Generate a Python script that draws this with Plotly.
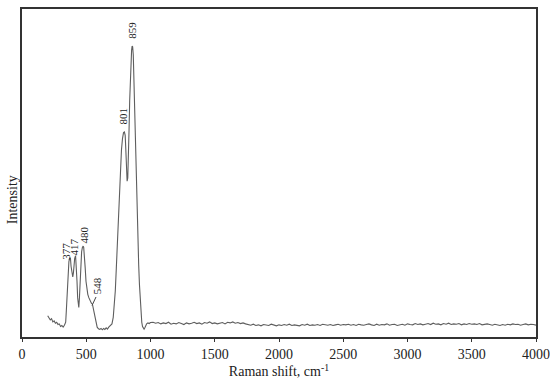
import plotly.graph_objects as go

# Raman spectrum, peak region (cm^-1 and intensity, arbitrary units 0-100)
shift_peaks = [200, 210, 220, 230, 240, 250, 260, 270, 280, 290, 300, 310, 320, 330,
               340, 345, 350, 355, 360, 365, 372, 377, 382, 390, 395, 400, 405, 410,
               417, 422, 428, 433, 438, 442, 447, 452, 458, 464, 470, 476, 480, 486,
               492, 498, 505, 512, 520, 530, 540, 548, 556, 565, 575, 585, 595, 605,
               615, 625, 635, 645, 655, 665, 675, 685, 692, 700, 710, 718, 726, 734,
               742, 750, 758, 766, 774, 782, 790, 797, 803, 808, 813, 818, 823, 828,
               833, 838, 843, 848, 853, 857, 861, 866, 872, 878, 884, 890, 896, 902,
               908, 914, 920, 926, 932, 938, 944, 950, 956, 962, 970, 980, 990, 1000]
intensity_peaks = [6.5, 5.8, 5.2, 5.6, 4.6, 4.9, 4.2, 4.5, 3.8, 4.0, 3.2, 3.5, 3.0, 3.6,
                   4.5, 8.0, 13.0, 18.0, 21.0, 23.0, 24.2, 24.0, 21.5, 19.0, 18.3, 19.5, 22.0, 24.0,
                   24.8, 22.0, 17.0, 12.0, 9.5, 9.0, 12.0, 18.0, 23.0, 26.0, 27.3, 27.7, 27.4, 25.0,
                   21.0, 17.0, 14.5, 13.0, 12.0, 11.0, 10.3, 10.0, 8.5, 6.0, 4.0, 3.0, 2.5, 2.3,
                   2.6, 2.2, 2.6, 2.3, 2.8, 2.4, 3.0, 3.3, 3.6, 4.0, 6.0, 9.0, 14.0, 21.0,
                   29.0, 37.0, 45.0, 52.0, 57.0, 60.5, 62.3, 62.5, 61.5, 57.0, 51.0, 47.5, 48.5, 54.0,
                   63.0, 72.0, 79.0, 84.0, 87.5, 88.7, 88.5, 86.0, 76.0, 66.0, 56.0, 46.0, 37.0, 29.0,
                   22.0, 16.0, 11.0, 7.0, 4.5, 3.2, 2.6, 2.4, 2.8, 3.4, 4.0, 4.3, 4.1, 4.4]

# Baseline region 1020-4000 cm^-1, sampled every 20 cm^-1
shift_base = list(range(1020, 4001, 20))
intensity_base = [
    4.5, 4.2, 4.4, 4.0, 4.3, 4.1, 4.5, 3.9, 4.2, 4.0, 4.4, 4.1, 3.8, 4.3, 4.0, 4.2, 4.5, 4.1, 4.3,
    3.9, 4.4, 4.2, 4.6, 4.1, 4.3, 4.0, 4.2, 4.4, 4.0, 4.5, 4.3, 4.6, 4.2, 4.4, 4.1, 4.3, 4.0,
    3.8, 3.6, 3.9, 3.5, 3.7, 3.4, 3.8, 3.6, 3.5, 3.9, 3.6, 3.4, 3.7, 3.5, 3.8, 3.6, 3.9, 3.5, 3.7,
    3.6, 3.4, 3.8, 3.6, 3.9, 3.5, 3.7, 3.6, 3.8, 3.5, 3.9, 3.7, 3.6, 3.8, 3.5, 3.7, 3.9, 3.6, 3.8,
    3.7, 3.9, 3.6, 3.8, 3.5, 3.9, 3.7, 3.6, 3.8, 4.0, 3.7, 3.5, 3.9, 3.6, 3.8, 3.7, 4.0, 3.6, 3.8,
    3.9, 3.5, 3.7, 3.9, 3.6, 4.0, 3.8, 3.7, 4.1, 3.8, 4.0, 3.7, 3.9, 4.1, 3.8, 4.2, 3.9, 4.0, 3.7,
    4.1, 3.9, 4.2, 3.8, 4.0, 3.9, 4.1, 3.7, 4.0, 3.8, 4.1, 3.9,
    4.0, 3.8, 4.1, 3.7, 3.9, 4.0, 3.8, 3.6, 3.9, 3.7, 3.5, 3.8, 3.6, 3.9, 3.7, 4.0, 3.8, 3.9,
    3.6, 3.8, 4.0, 3.7, 3.9, 3.8, 3.6]

# Peak labels
label_text = ["377", "417", "480", "548", "801", "859"]
label_x = [346, 412, 482, 580, 786, 856]
label_y = [22.9, 24.4, 28.0, 12.4, 64.0, 90.2]

x_ticks = [0, 500, 1000, 1500, 2000, 2500, 3000, 3500, 4000]

shift = shift_peaks + shift_base
intensity = intensity_peaks + intensity_base

FONT = "Liberation Serif"
AX = "#333333"

fig = go.Figure()
fig.add_trace(go.Scatter(x=shift, y=intensity, mode="lines",
                         line=dict(color="#5e5e5e", width=1.1),
                         hoverinfo="skip", showlegend=False))

for t, x, y in zip(label_text, label_x, label_y):
    fig.add_annotation(x=x, y=y, text=t, textangle=-90, showarrow=False,
                       xanchor="center", yanchor="bottom",
                       font=dict(family=FONT, size=11, color="#222222"))

# leader line for the 548 shoulder
fig.add_shape(type="line", x0=576, y0=12.2, x1=545, y1=9.6,
              line=dict(color="#444444", width=1))

fig.add_annotation(xref="paper", yref="paper", x=-0.0195, y=0.42,
                   text="Intensity", textangle=-90, showarrow=False,
                   xanchor="center", yanchor="middle",
                   font=dict(family=FONT, size=14, color="#222222"))

fig.update_layout(
    width=550, height=385,
    margin=dict(l=22, r=14, t=9, b=48),
    paper_bgcolor="white", plot_bgcolor="white",
    font=dict(family=FONT, size=14, color="#222222"),
    xaxis=dict(range=[0, 4000], tickvals=x_ticks, ticks="outside", ticklen=3,
               tickcolor=AX, tickwidth=1, showline=True, linecolor=AX, linewidth=1.5,
               mirror=True, showgrid=False, zeroline=False, automargin=False,
               tickfont=dict(family=FONT, size=14, color="#222222"),
               title=dict(text="Raman shift, cm<sup>-1</sup>", standoff=6,
                          font=dict(family=FONT, size=14, color="#222222"))),
    yaxis=dict(range=[0, 100], showticklabels=False, ticks="", showline=True,
               linecolor=AX, linewidth=1.5, mirror=True, showgrid=False, zeroline=False,
               automargin=False),
)

# remove the browser's default page margin so the figure fills the window exactly
fig.write_html("out.html", config={"displayModeBar": False},
               post_script="document.body.style.margin='0';document.body.style.overflow='hidden';")
